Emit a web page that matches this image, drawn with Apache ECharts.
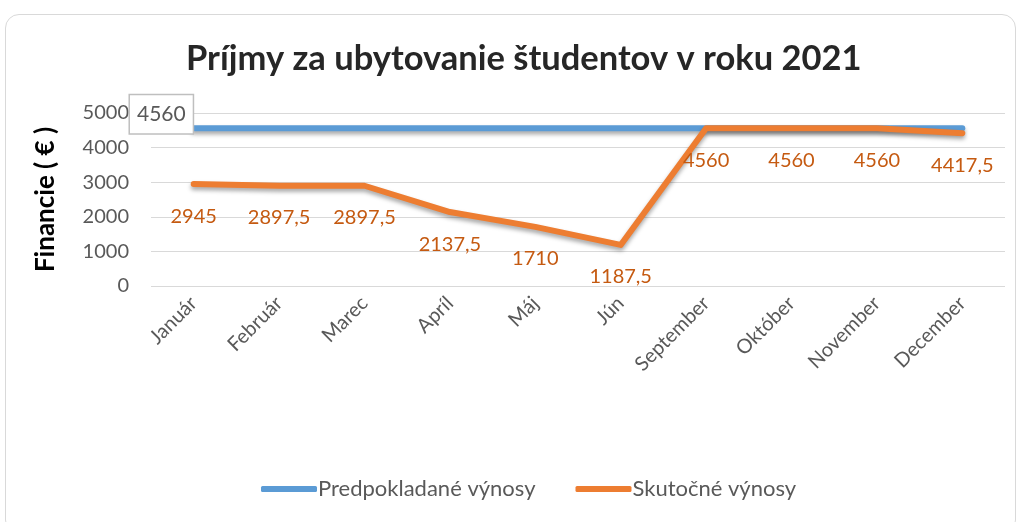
<!DOCTYPE html>
<html>
<head>
<meta charset="utf-8">
<script src="https://cdn.jsdelivr.net/npm/echarts@6/dist/echarts.min.js"></script>
<style>
  html, body { margin: 0; padding: 0; background: #fff; }
  #frame {
    position: absolute; left: 5px; top: 14px; width: 1011px; height: 520px;
    border: 1px solid #d9d9d9; border-radius: 14px; box-sizing: border-box;
  }
  #chart { position: absolute; left: 0; top: 0; width: 1021px; height: 522px; }
</style>
</head>
<body>
<div id="frame"></div>
<div id="chart"></div>
<script>
  // mesiace na osi x
  var months = ['Január', 'Február', 'Marec', 'Apríl', 'Máj', 'Jún', 'September', 'Október', 'November', 'December']
  var planned = [4560, 4560, 4560, 4560, 4560, 4560, 4560, 4560, 4560, 4560]
  var actual = [2945, 2897.5, 2897.5, 2137.5, 1710, 1187.5, 4560, 4560, 4560, 4417.5]
  var yTicks = [0, 1000, 2000, 3000, 4000, 5000]

  var font = 'Lato, "Open Sans", sans-serif'
  var grey = '#595959'
  var shadow = {
    shadowBlur: 4,
    shadowColor: 'rgba(0,0,0,0.35)',
    shadowOffsetY: 3
  }

  function fmt(v) {
    return String(v).replace('.', ',')
  }

  var chart = echarts.init(document.getElementById('chart'))
  chart.setOption({
    animation: false,
    color: ['#5B9BD5', '#ED7D31'],
    title: {
      text: 'Príjmy za ubytovanie študentov v roku 2021',
      left: 181,
      top: 36,
      textStyle: {
        fontFamily: font,
        fontSize: 34.5,
        fontWeight: 'bold',
        color: '#262626'
      }
    },
    legend: {
      bottom: 17,
      left: 256,
      itemWidth: 56,
      itemHeight: 6,
      itemGap: 40,
      icon: 'roundRect',
      textStyle: { fontFamily: font, fontSize: 22, color: grey, padding: [0, 0, 0, -4] },
      data: ['Predpokladané výnosy', 'Skutočné výnosy']
    },
    grid: {
      left: 151,
      right: 16,
      top: 113,
      bottom: 236
    },
    xAxis: {
      type: 'category',
      data: months,
      boundaryGap: true,
      axisLine: { show: false },
      axisTick: { show: false },
      axisLabel: {
        rotate: 45,
        margin: 14,
        fontFamily: font,
        fontSize: 20,
        color: grey,
        interval: 0
      }
    },
    yAxis: {
      type: 'value',
      min: yTicks[0],
      max: yTicks[yTicks.length - 1],
      interval: 1000,
      name: 'Financie ( € )',
      nameLocation: 'middle',
      nameGap: 92,
      nameRotate: 90,
      nameTextStyle: {
        fontFamily: font,
        fontSize: 26,
        fontWeight: 'bold',
        color: '#000'
      },
      axisLine: { show: false },
      axisTick: { show: false },
      axisLabel: {
        margin: 22,
        fontFamily: font,
        fontSize: 20,
        color: grey,
        formatter: function (v) { return String(v) }
      },
      splitLine: { lineStyle: { color: '#d9d9d9', width: 1 } }
    },
    series: [
      {
        name: 'Predpokladané výnosy',
        type: 'line',
        data: planned,
        symbol: 'none',
        lineStyle: Object.assign({ width: 6, cap: 'round', join: 'round' }, shadow),
        label: { show: false },
        markPoint: {
          symbol: 'rect',
          symbolSize: 0,
          data: [{ coord: [0, planned[0]], value: planned[0] }],
          label: {
            show: true,
            position: 'left',
            distance: 1,
            formatter: function (p) { return fmt(p.value) },
            fontFamily: font,
            fontSize: 21,
            color: grey,
            backgroundColor: '#fff',
            borderColor: '#bfbfbf',
            borderWidth: 1.5,
            padding: [9, 7, 8, 7],
            offset: [0, -14]
          }
        }
      },
      {
        name: 'Skutočné výnosy',
        type: 'line',
        data: actual,
        symbol: 'circle',
        symbolSize: 0.1,
        showSymbol: true,
        lineStyle: Object.assign({ width: 6, cap: 'round', join: 'round' }, shadow),
        label: {
          show: true,
          position: 'bottom',
          distance: 22,
          formatter: function (p) { return fmt(p.value) },
          fontFamily: font,
          fontSize: 20,
          color: '#C55A11'
        }
      }
    ]
  })
</script>
</body>
</html>
